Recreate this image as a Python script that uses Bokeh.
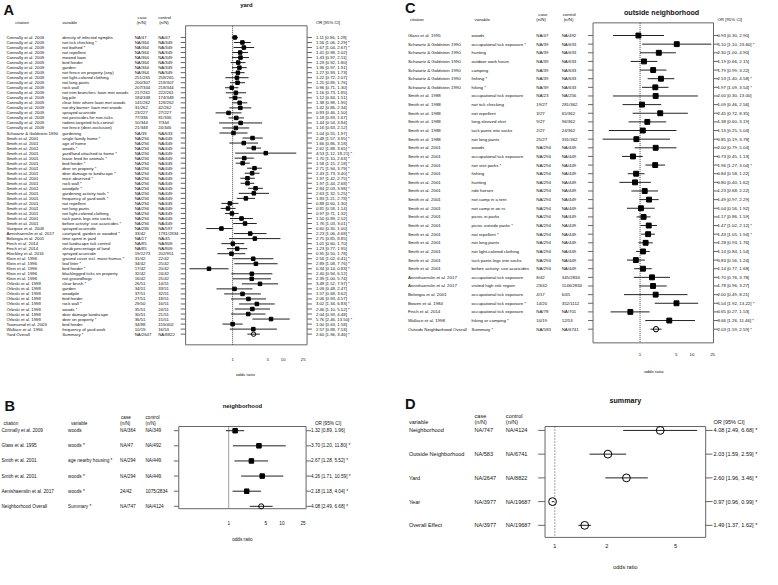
import math
from bokeh.plotting import figure
from bokeh.models import Range1d, LogScale, ColumnDataSource
from bokeh.layouts import row, column
from bokeh.embed import file_html
from bokeh.resources import INLINE
from bokeh.core.properties import value

FONT = "Liberation Sans"
SX = 762 / 778
SY = 569 / 585
FS = (SX + SY) / 2

# ---------------- Panel A: yard ----------------
a_citation = (["Connally et al. 2009"] * 19 + ["Schwartz & Goldstein 1990"] + ["Smith et al. 2001"] * 18 +
              ["Vazquez et al. 2008", "Aenishaenslin et al. 2017", "Belongia et al. 2001", "Finch et al. 2014",
               "Finch et al. 2014", "Hinckley et al. 2016"] + ["Klein et al. 1996"] * 5 +
              ["Orloski et al. 1998"] * 8 + ["Townsend et al. 2003", "Wallace et al. 1996", "Yard Overall"])
a_variable = ["density of infected nymphs", "not tick checking *", "not bathed *", "not repellent", "mowed lawn",
              "bird feeder", "garden", "not fence on property (any)", "not light-colored clothing", "not long pants",
              "rock wall", "not trim branches: lawn met woods", "log pile", "clear litter where lawn met woods",
              "not dry barrier: lawn met woods", "sprayed acaricide", "not pesticides for non-ticks",
              "rodent-targeted tick-control", "not fence (deer-exclusion)",
              "gardening",
              "single family home *", "age of home", "woods *", "yard/land attached to home *",
              "leave feed for animals *", "bird feeder *", "deer on property *", "deer damage to landscape *",
              "mice observed *", "rock wall *", "woodpile *", "gardening activity tools *",
              "frequency of yard work *", "not repellent", "not long pants", "not light-colored clothing",
              "tuck pants legs into socks", "before activity: use acaricides *",
              "sprayed acaricide", "courtyard, garden or wooded *", "time spent in yard",
              "not landscape tick control", "shrub percentage of land", "sprayed acaricide",
              "ground cover incl. moist humus *", "leaf litter *", "bird feeder *",
              "blacklegged ticks on property", "not groundhogs",
              "clear brush *", "garden", "woodpile", "bird feeder", "rock wall *", "woods *",
              "deer damage landscape", "deer on property *",
              "bird feeder", "frequency of yard work", "Summary *"]
a_case = (["NA/47"] + ["NA/364"] * 7 +
          ["251/265", "200/307", "207/344", "217/261", "184/348", "141/262", "31/262", "23/227", "77/336",
           "10/344", "21/348"] + ["NA/39"] + ["NA/294"] * 18 +
          ["NA/286", "33/42", "NA/17", "NA/85", "NA/85", "19/1273"] +
          ["31/42", "34/42", "17/42", "32/42", "16/42"] +
          ["26/51", "34/51", "37/51", "27/51", "29/50", "35/51", "30/51", "36/51"] +
          ["34/88", "10/19", "NA/2647"])
a_control = (["NA/47"] + ["NA/349"] * 7 +
             ["258/265", "218/307", "218/344", "222/261", "174/348", "128/262", "42/262", "27/227", "81/336",
              "7/344", "24/346"] + ["NA/633"] + ["NA/449"] * 18 +
             ["NA/597", "1781/2834", "NA/45", "NA/809", "NA/809", "202/951"] +
             ["22/42", "25/42", "20/42", "24/42", "25/42"] +
             ["14/51", "33/51", "32/51", "18/51", "16/51", "24/51", "21/51", "15/51"] +
             ["159/402", "16/53", "NA/8822"])
a_est = [1.11, 1.56, 1.67, 1.41, 1.43, 1.29, 1.36, 1.27, 1.22, 1.25, 0.96, 1.16, 1.12, 1.38, 1.42, 0.83, 1.18,
         1.44, 1.16, 1.04, 2.48, 1.66, 2.62, 4.53, 1.70, 1.58, 2.71, 2.43, 1.97, 1.97, 2.84, 2.63, 1.83, 0.88,
         0.81, 0.97, 1.50, 1.76, 0.60, 2.23, 2.75, 1.01, 1.23, 0.95, 2.56, 2.89, 0.34, 2.40, 2.39, 3.48, 1.09,
         1.57, 2.06, 3.02, 2.46, 2.04, 5.76, 1.00, 2.57, 2.60]
a_lo = [0.96, 1.06, 1.04, 0.98, 0.97, 0.92, 0.97, 0.93, 0.72, 0.89, 0.71, 0.73, 0.84, 0.98, 0.86, 0.46, 0.83,
        0.54, 0.63, 0.55, 1.57, 0.86, 1.88, 1.12, 1.10, 1.15, 1.94, 1.73, 1.42, 1.44, 2.03, 1.32, 1.21, 0.60,
        0.58, 0.71, 0.89, 1.03, 0.30, 1.06, 0.85, 0.60, 0.77, 0.50, 1.02, 1.08, 0.14, 0.94, 1.00, 1.52, 0.48,
        0.68, 0.93, 1.34, 1.10, 0.93, 2.46, 0.63, 0.88, 1.96]
a_hi = [1.28, 2.29, 2.67, 2.02, 2.11, 1.80, 1.91, 1.73, 2.07, 1.76, 1.30, 1.85, 1.51, 1.95, 2.34, 1.50, 1.67,
        3.84, 2.12, 1.97, 3.95, 3.18, 3.65, 18.21, 2.63, 2.18, 3.79, 3.40, 2.75, 2.68, 3.98, 5.25, 2.78, 1.30,
        1.14, 1.32, 2.52, 3.01, 1.00, 4.68, 8.85, 1.70, 1.95, 1.78, 6.41, 7.76, 0.83, 6.12, 5.74, 7.97, 2.47,
        3.62, 4.57, 6.83, 5.52, 4.48, 13.50, 1.58, 7.53, 3.46]
a_ticks = [1, 5, 10, 25]

# ---------------- Panel B: neighborhood ----------------
b_citation = ["Connally et al. 2009", "Glass et al. 1995", "Smith et al. 2001", "Smith et al. 2001",
              "Aenishaenslin et al. 2017", "Neighborhood Overall"]
b_variable = ["woods", "woods *", "age nearby housing *", "woods *", "woods *", "Summary *"]
b_case = ["NA/364", "NA/47", "NA/294", "NA/294", "24/42", "NA/747"]
b_control = ["NA/349", "NA/492", "NA/449", "NA/449", "1075/2834", "NA/4124"]
b_est = [1.32, 3.70, 2.67, 4.26, 2.18, 4.08]
b_lo = [0.89, 1.20, 1.28, 1.71, 1.18, 2.49]
b_hi = [1.96, 11.80, 5.52, 10.59, 4.04, 6.68]
b_ticks = [1, 5, 10, 25]

# ---------------- Panel C: outside neighborhood ----------------
c_citation = (["Glass et al. 1995"] + ["Schwartz & Goldstein 1990"] * 6 + ["Smith et al. 1988"] * 6 +
              ["Smith et al. 2001"] * 15 + ["Aenishaenslin et al. 2017"] * 2 +
              ["Belongia et al. 2001", "Bowen et al. 1984", "Finch et al. 2014", "Wallace et al. 1998",
               "Outside Neighborhood Overall"])
c_variable = ["woods", "occupational tick exposure *", "hunting", "outdoor work hours", "camping", "fishing *",
              "hiking *", "occupational tick exposure", "not tick checking", "not repellent",
              "long-sleeved shirt", "tuck pants into socks", "not long pants", "woods",
              "occupational tick exposure", "not visit parks *", "fishing", "hunting", "ride horses",
              "not camp in a tent", "not camp in an rv", "picnic in parks", "picnic outside parks *",
              "not repellent *", "not long pants", "not light-colored clothing", "tuck pants legs into socks",
              "before activity: use acaricides", "occupational tick exposure", "visited high risk region",
              "occupational tick exposure", "occupational tick exposure *", "occupational tick exposure",
              "hiking or camping *", "Summary *"]
c_case = (["NA/47"] + ["NA/39"] * 6 + ["NA/23", "19/27", "3/27", "9/27", "2/27", "25/27"] + ["NA/294"] * 15 +
          ["8/42", "23/42", "4/17", "14/20", "NA/78", "10/19", "NA/583"])
c_control = (["NA/492"] + ["NA/633"] * 6 + ["NA/256", "281/362", "65/362", "96/362", "24/362", "331/362"] +
             ["NA/449"] * 15 + ["345/2834", "1146/2834", "6/45", "352/1112", "NA/701", "12/53", "NA/6741"])
c_est = [0.93, 5.10, 2.30, 1.19, 1.79, 2.53, 1.97, 2.00, 1.09, 2.45, 1.38, 1.13, 0.85, 2.00, 0.73, 1.96, 0.84,
         0.80, 1.23, 1.49, 1.04, 1.17, 1.47, 1.43, 1.28, 1.14, 0.83, 1.14, 1.70, 1.78, 2.00, 5.04, 0.65, 3.66,
         2.03]
c_lo = [0.30, 1.10, 1.00, 0.66, 0.99, 1.40, 1.09, 0.30, 0.46, 0.72, 0.60, 0.25, 0.19, 0.79, 0.45, 1.27, 0.58,
        0.40, 0.68, 0.97, 0.56, 0.86, 1.02, 1.05, 0.93, 0.84, 0.56, 0.77, 0.76, 0.96, 0.49, 1.92, 0.27, 1.26,
        1.59]
c_hi = [2.90, 23.60, 4.90, 2.15, 3.22, 4.58, 3.54, 13.00, 2.56, 8.35, 3.19, 5.04, 3.78, 5.04, 1.13, 3.04, 1.22,
        1.62, 2.22, 2.29, 1.92, 1.59, 2.12, 1.94, 1.76, 1.54, 1.24, 1.68, 3.78, 3.27, 8.21, 13.22, 1.53, 11.46,
        2.59]
c_ticks = [1, 5, 10, 25]

# ---------------- Panel D: summary ----------------
d_variable = ["Neighborhood", "Outside Neighborhood", "Yard", "Year", "Overall Effect"]
d_case = ["NA/747", "NA/583", "NA/2647", "NA/3977", "NA/3977"]
d_control = ["NA/4124", "NA/6741", "NA/8822", "NA/19687", "NA/19687"]
d_est = [4.08, 2.03, 2.60, 0.97, 1.49]
d_lo = [2.49, 1.59, 1.96, 0.96, 1.37]
d_hi = [6.68, 2.59, 3.46, 0.99, 1.62]
d_star = [True, True, True, True, True]
d_ticks = [1, 2, 5]

BOX = "#666666"
CI = "#222222"


def fmt(e, l, h, s):
    return f"{e:.2f} [{l:.2f}, {h:.2f}]" + (" *" if s else "")


def style(size, bold=False, align="left", baseline="middle"):
    kw = dict(text_font=value(FONT), text_font_size=value(f"{size * FS:.2f}px"), text_align=align,
              text_baseline=baseline, text_color="#111111")
    if bold:
        kw["text_font_style"] = "bold"
    return kw


def make_panel(cfg, cols, est, lo, hi, star, summary, ticks):
    W, H = cfg["W"], cfg["H"]
    x0, y0 = cfg["x0"], cfg["y0"]
    xr = Range1d(x0, x0 + W / SX)
    yr = Range1d(y0 + H / SY, y0)
    p = figure(width=W, height=H, x_range=xr, y_range=yr, title=None, toolbar_location=None,
               output_backend="svg", x_axis_location=None, y_axis_location=None, min_border=0,
               outline_line_color=None, background_fill_color="white", border_fill_color="white")
    p.grid.visible = False
    px1, k = cfg["px1"], cfg["k"]
    p.extra_x_ranges = {"or": Range1d(math.exp((xr.start - px1) / k), math.exp((xr.end - px1) / k))}
    p.extra_x_scales = {"or": LogScale()}
    r0, dy = cfg["row0"], cfg["dy"]
    p.extra_y_ranges = {"rows": Range1d((yr.start - r0) / dy, (yr.end - r0) / dy)}

    n = len(est)
    data = dict(idx=list(range(n)), est=est, lo=lo, hi=hi,
                lab=[fmt(e, l, h, s) for e, l, h, s in zip(est, lo, hi, star)])
    for key, (vals, _) in cols.items():
        data[key] = vals
    src = ColumnDataSource(data)
    st_idx = [i for i in range(n) if not summary[i]]
    su_idx = [i for i in range(n) if summary[i]]
    src_st = ColumnDataSource(dict(idx=st_idx, est=[est[i] for i in st_idx]))
    src_su = ColumnDataSource(dict(idx=su_idx, est=[est[i] for i in su_idx]))

    fs = cfg["font"]
    bl, br, bt, bb = cfg["box"]
    tl = cfg["tick_len"]

    p.quad(left=[bl], right=[br], top=[bt], bottom=[bb], fill_color=None, line_color=BOX, line_width=1)
    p.segment(x0=bl - tl, x1=bl, y0="idx", y1="idx", source=src, y_range_name="rows", line_color=BOX,
              line_width=1)
    p.segment(x0=br, x1=br + tl, y0="idx", y1="idx", source=src, y_range_name="rows", line_color=BOX,
              line_width=1)
    p.segment(x0=[1], x1=[1], y0=[bt], y1=[bb], x_range_name="or", line_color="#444444",
              line_dash=cfg.get("dash", "1 1"), line_width=1)
    p.segment(x0="lo", x1="hi", y0="idx", y1="idx", source=src, x_range_name="or", y_range_name="rows",
              line_color=CI, line_width=1)
    if st_idx:
        p.scatter(x="est", y="idx", source=src_st, marker="square", size=cfg["sq"] * FS, fill_color="black",
                  line_color="black", x_range_name="or", y_range_name="rows")
    if su_idx:
        p.scatter(x="est", y="idx", source=src_su, marker="circle", size=cfg["circ"] * FS, fill_color=None,
                  line_color="black", line_width=1, x_range_name="or", y_range_name="rows")

    for key, (_, xpos) in cols.items():
        p.text(x=xpos, y="idx", text=key, source=src, y_range_name="rows", **style(fs))
    p.text(x=cfg["or_x"], y="idx", text="lab", source=src, y_range_name="rows", **style(fs))

    for hx, hy, ht in cfg["headers"]:
        p.text(x=[hx], y=[hy], text=[ht], **style(fs))

    tsrc = ColumnDataSource(dict(t=ticks, lab=[str(t) for t in ticks]))
    p.text(x="t", y=cfg["tick_y"], text="lab", source=tsrc, x_range_name="or", **style(fs, align="center"))
    p.text(x=[cfg["xlab"][0]], y=[cfg["xlab"][1]], text=["odds ratio"], **style(fs, align="center"))

    tx, ty, tt, tfs = cfg["title"]
    p.text(x=[tx], y=[ty], text=[tt], **style(tfs, bold=True, align="center"))
    lx, ly, lt = cfg["letter"]
    p.text(x=[lx], y=[ly], text=[lt], **style(15, bold=True))
    return p


cfgA = dict(W=380, H=384, x0=0, y0=0, row0=38, dy=5.17, px1=237, k=22.4, box=(189, 313, 26, 354),
            tick_len=5, font=4.4, sq=3.6, circ=4.5, or_x=322, tick_y=369, xlab=(250, 385),
            title=(251, 5, "yard", 6), letter=(3, 10, "A"),
            headers=[(15, 23, "citation"), (63, 23, "variable"), (140, 17, "case"), (139, 23, "(n/N)"),
                     (161, 17, "control"), (162, 23, "(n/N)"), (322, 23, "OR [95% CI]")])
pA = make_panel(cfgA, {"cit": (a_citation, 6), "var": (a_variable, 63), "case": (a_case, 137),
                       "ctrl": (a_control, 161)},
                a_est, a_lo, a_hi, [v.endswith("*") for v in a_variable],
                [False] * (len(a_est) - 1) + [True], a_ticks)

yB = 384 / SY
cfgB = dict(W=380, H=185, x0=0, y0=yB, row0=442.3, dy=15.55, px1=233, k=23.6, box=(182, 312, 438, 522.5),
            tick_len=5, font=4.8, sq=4.6, circ=5.2, or_x=317, tick_y=537, xlab=(247, 554),
            title=(247, 417, "neighborhood", 6), letter=(4, 417, "B"),
            headers=[(3, 435, "citation"), (72, 435, "variable"), (123, 429, "case"), (122, 435, "(n/N)"),
                     (148, 429, "control"), (148, 435, "(n/N)"), (321, 435, "OR [95% CI]")])
pB = make_panel(cfgB, {"cit": (b_citation, 1), "var": (b_variable, 69), "case": (b_case, 122),
                       "ctrl": (b_control, 148)},
                b_est, b_lo, b_hi, [v.endswith("*") for v in b_variable],
                [False] * (len(b_est) - 1) + [True], b_ticks)

cfgC = dict(W=382, H=391, x0=388, y0=0, row0=36, dy=8.88, px1=653, k=23.0, box=(605, 728, 23, 352),
            tick_len=5, font=4.5, sq=5.0, circ=5.5, or_x=732, tick_y=364, xlab=(667, 381),
            title=(675, 13, "outside neighborhood", 7.3), letter=(413, 8, "C"),
            headers=[(418, 20, "citation"), (484, 20, "variable"), (549, 14, "case"), (547, 20, "(n/N)"),
                     (574, 14, "control"), (575, 20, "(n/N)"), (732, 20, "OR [95% CI]")])
pC = make_panel(cfgC, {"cit": (c_citation, 416), "var": (c_variable, 481), "case": (c_case, 547),
                       "ctrl": (c_control, 573)},
                c_est, c_lo, c_hi, [v.endswith("*") for v in c_variable],
                [False] * (len(c_est) - 1) + [True], c_ticks)

yD = 391 / SY
cfgD = dict(W=382, H=178, x0=388, y0=yD, row0=442, dy=24.4, px1=566, k=76.5, box=(556, 720, 438, 552),
            tick_len=7, font=5.7, sq=5.0, circ=8.0, or_x=728, tick_y=561, xlab=(638, 582), dash="1 2",
            title=(638, 412, "summary", 7.3), letter=(413, 415, "D"),
            headers=[(417, 433, "variable"), (484, 427, "case"), (484, 433, "(n/N)"), (516, 427, "control"),
                     (516, 433, "(n/N)"), (728, 433, "OR [95% CI]")])
pD = make_panel(cfgD, {"var": (d_variable, 417), "case": (d_case, 484), "ctrl": (d_control, 516)},
                d_est, d_lo, d_hi, d_star, [True] * len(d_est), d_ticks)

layout = row(column(pA, pB, spacing=0), column(pC, pD, spacing=0), spacing=0)
open("out.html", "w").write(file_html(layout, INLINE))
